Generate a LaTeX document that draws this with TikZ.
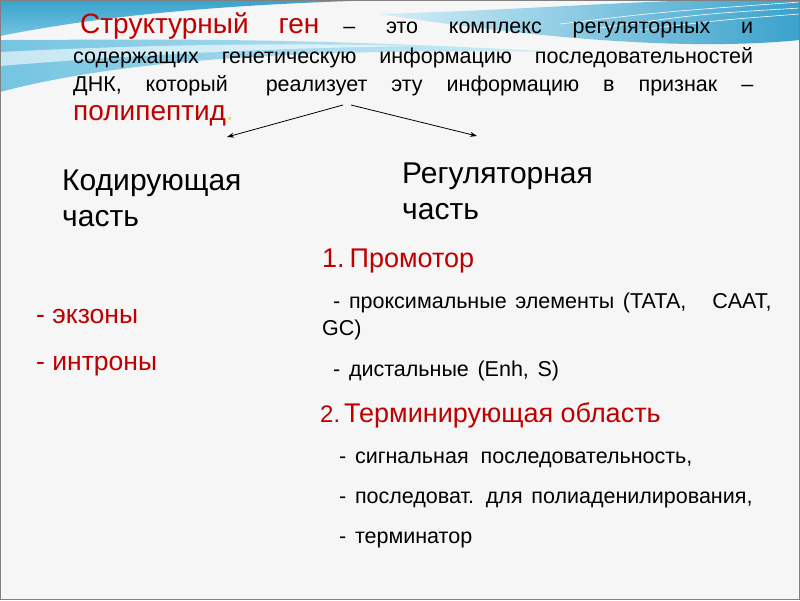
\documentclass[tikz,border=0pt]{standalone}
\usepackage{fontspec}
\setmainfont{Liberation Sans}
\newfontfamily\widesp{Liberation Sans}[WordSpace=1.45]
\usetikzlibrary{arrows.meta}
\definecolor{deepred}{HTML}{C00000}
\definecolor{slidebg}{HTML}{F6F6F6}
\definecolor{wavedark}{HTML}{3AA2CC}
\definecolor{wavemid}{HTML}{74C4E1}
\definecolor{wavelight}{HTML}{D3EEF7}
\definecolor{dotyellow}{HTML}{F2E600}
\begin{document}
\begin{tikzpicture}[x=1pt,y=-1pt,
  txt/.style={anchor=base west,inner sep=0pt},
  lead/.style={txt,font=\fontsize{21.5}{26}\selectfont},
  part/.style={txt,font=\fontsize{30}{36}\selectfont},
  redhead/.style={txt,text=deepred,font=\fontsize{27}{32}\selectfont},
  subitem/.style={txt,font=\widesp\fontsize{21.5}{26}\selectfont},
  arr/.style={-{Stealth[length=7pt,width=5pt]},line width=0.8pt}]
\useasboundingbox (0,0) rectangle (800,600);
\fill[slidebg] (0,0) rectangle (800,600);
% waves at the top
\shade[top color=wavedark,bottom color=wavemid] (0,0) -- (380,0) .. controls (250,4) and (120,12) .. (0,36) -- cycle;
\shade[left color=wavemid,right color=wavelight] (0,40) .. controls (120,40) and (280,36) .. (560,52) .. controls (300,48) and (120,60) .. (0,92) -- cycle;
\fill[white,opacity=0.6] (0,52) .. controls (120,46) and (260,42) .. (420,46) .. controls (260,48) and (120,56) .. (0,66) -- cycle;
\shade[left color=wavelight,right color=wavedark] (380,14) .. controls (520,10) and (650,0) .. (720,0) -- (800,0) -- (800,40) .. controls (700,50) and (560,42) .. (380,14) -- cycle;
\draw[white,line width=0.6pt] (560,24) .. controls (660,12) .. (800,2);
\draw[white,line width=0.6pt] (600,28) .. controls (700,14) .. (800,8);
\draw[white,line width=0.6pt] (640,30) .. controls (720,20) .. (800,14);
\draw[gray,line width=1.2pt] (0.6,0.6) rectangle (799.4,599.4);
% definition
\node[lead] (def1) at (80,33) {\makebox[673pt]{{\color{deepred}\fontsize{28}{34}\selectfont Структурный\hspace{30pt}ген}\hspace{24pt}–\hfill это\hfill комплекс\hfill регуляторных\hfill и}};
\node[lead] (def2) at (73,63) {\makebox[680pt][s]{содержащих генетическую информацию последовательностей}};
\node[lead] (def3) at (73,91) {\makebox[680pt][s]{ДНК, который\hspace{14pt} реализует эту информацию в признак –}};
\node[txt,font=\fontsize{28}{34}\selectfont] (def4) at (73,120) {\color{deepred}полипептид\color{dotyellow}.};
% two parts
\node[part] (cod) at (62,190) {Кодирующая};
\node[part] (codb) at (62,226) {часть};
\node[part] (reg) at (402,183) {Регуляторная};
\node[part] (regb) at (402,219) {часть};
\coordinate (forkL) at (343,105);
\coordinate (forkR) at (351,105);
\coordinate (toCod) at (227,137);
\coordinate (toReg) at (477,136);
\draw[arr] (forkL) -- (toCod);
\draw[arr] (forkR) -- (toReg);
% coding part
\node[txt,text=deepred,font=\fontsize{26.5}{32}\selectfont] (exon) at (36,323) {- экзоны};
\node[txt,text=deepred,font=\fontsize{26.5}{32}\selectfont] (intron) at (36,370) {- интроны};
% regulatory part
\node[redhead] (prom) at (322,267) {1.\hspace{5pt}Промотор};
\node[subitem] (prox) at (333,308) {- проксимальные элементы (TATA,\ \ \ CAAT,};
\node[subitem] (gc) at (322,335) {GC)};
\node[subitem] (dist) at (333,376) {- дистальные (Enh, S)};
\node[redhead] (term) at (320,422) {{\fontsize{24}{28}\selectfont 2.}\hspace{4pt}Терминирующая область};
\node[subitem] (sig) at (339,463) {- сигнальная\hspace{12pt}последовательность,};
\node[subitem] (polyA) at (339,503) {- последоват.\hspace{12pt}для полиаденилирования,};
\node[subitem] (ter) at (339,543) {- терминатор};
\end{tikzpicture}
\end{document}
